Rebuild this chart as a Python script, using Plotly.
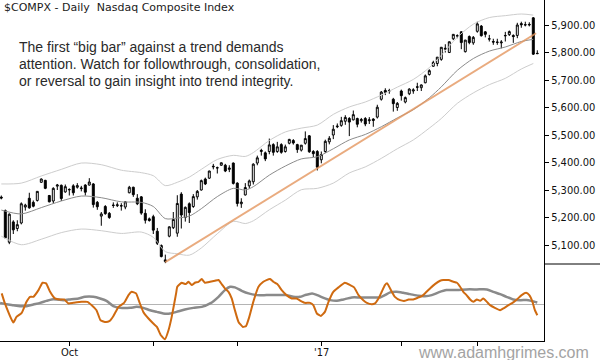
import plotly.graph_objects as go

# ---------------- data ----------------
opens = [5274,5225,5110,5184,5160,5180,5238,5270,5255,5262,5328,5335,5280,5260,5314,5317,5293,5302,5315,5310,
         5305,5318,5318,5322,5255,5205,5240,5215,5245,5243,5243,5238,5290,5310,5270,5275,5215,5195,5203,5150,
         5098,5040,5132,5163,5143,5285,5200,5250,5240,5275,5300,5340,5343,5384,5380,5390,5390,5375,5398,5325,
         5250,5282,5315,5330,5398,5440,5435,5440,5465,5440,5465,5440,5470,5480,5465,5445,5470,5497,5440,5440,
         5410,5440,5475,5500,5530,5535,5550,5560,5555,5560,5552,5560,5552,5558,5565,5630,5662,5660,5630,5600,
         5660,5620,5650,5660,5675,5672,5690,5720,5750,5760,5775,5812,5800,5850,5860,5875,5803,5858,5835,5877,
         5896,5875,5850,5840,5838,5835,5862,5865,5862,5862,5905,5900,5900,5926,5797]
highs = [5280,5229,5215,5190,5190,5255,5250,5290,5262,5296,5342,5337,5282,5310,5322,5320,5320,5306,5321,5325,
         5315,5321,5343,5325,5260,5220,5245,5220,5255,5255,5252,5260,5315,5312,5285,5278,5230,5200,5210,5162,
         5102,5065,5168,5220,5281,5292,5240,5255,5285,5300,5338,5345,5370,5395,5385,5400,5395,5390,5400,5328,
         5270,5325,5338,5397,5425,5450,5440,5487,5470,5475,5470,5465,5486,5485,5468,5462,5513,5500,5445,5445,
         5440,5483,5496,5536,5542,5566,5572,5565,5589,5563,5562,5565,5565,5561,5610,5660,5670,5668,5635,5620,
         5665,5640,5670,5670,5690,5684,5720,5739,5770,5783,5820,5830,5840,5867,5866,5877,5846,5862,5860,5912,
         5900,5878,5864,5850,5850,5845,5875,5880,5866,5908,5912,5912,5910,5929,5808]
lows = [5266,5125,5103,5140,5150,5175,5225,5232,5237,5258,5326,5303,5255,5250,5300,5260,5290,5280,5280,5305,
        5295,5280,5316,5236,5228,5170,5210,5195,5235,5238,5225,5230,5288,5275,5245,5210,5178,5185,5140,5100,
        5055,5034,5128,5158,5130,5160,5185,5180,5235,5265,5298,5318,5340,5375,5360,5388,5365,5365,5320,5240,
        5235,5280,5305,5320,5390,5425,5405,5430,5425,5435,5432,5436,5466,5465,5435,5440,5465,5435,5420,5371,
        5397,5435,5466,5485,5525,5530,5537,5496,5553,5528,5545,5532,5540,5530,5560,5625,5645,5650,5585,5588,
        5625,5615,5645,5650,5660,5660,5688,5716,5748,5750,5770,5800,5798,5845,5852,5812,5800,5830,5828,5872,
        5858,5855,5840,5828,5828,5815,5840,5860,5835,5852,5890,5895,5895,5791,5794]
closes = [5271,5126,5212,5155,5174,5250,5245,5235,5241,5295,5340,5306,5257,5306,5318,5269,5312,5301,5290,5316,
          5307,5292,5329,5247,5239,5213,5214,5200,5244,5246,5242,5257,5310,5283,5250,5216,5190,5189,5154,5106,
          5058,5046,5166,5193,5251,5209,5237,5218,5276,5295,5334,5322,5369,5386,5381,5399,5369,5380,5324,5251,
          5256,5309,5333,5394,5417,5444,5413,5464,5437,5457,5437,5457,5484,5471,5447,5463,5487,5439,5432,5383,
          5429,5477,5488,5521,5532,5552,5564,5547,5574,5539,5556,5540,5555,5553,5601,5656,5655,5661,5614,5615,
          5643,5636,5667,5664,5674,5682,5715,5734,5764,5783,5819,5815,5839,5866,5861,5836,5845,5836,5855,5904,
          5861,5866,5849,5838,5837,5838,5861,5876,5858,5900,5901,5901,5902,5794,5796]
days = list(range(len(closes)))

# channel lines (read at sample days)
band_days = [0,5,10,15,20,25,30,35,38,41,44,47,50,54,58,61,63,67,71,75,79,83,87,91,95,99,103,107,110,114,118,122,126,130,133]
band_mid = [5227,5213,5236,5260,5278,5272,5257,5255,5240,5196,5198,5205,5232,5276,5306,5300,5312,5354,5387,5413,
            5421,5450,5482,5502,5530,5562,5592,5635,5675,5735,5778,5805,5820,5840,5848]
band_up = [5322,5325,5351,5375,5398,5392,5372,5363,5352,5316,5328,5347,5375,5411,5426,5422,5436,5480,5511,5525,
           5536,5575,5602,5620,5645,5674,5702,5745,5790,5855,5903,5927,5934,5940,5936]
band_lo = [5132,5101,5121,5145,5158,5152,5142,5147,5128,5076,5068,5063,5089,5141,5186,5178,5188,5228,5263,5301,
           5306,5325,5362,5384,5415,5450,5482,5525,5560,5615,5653,5683,5706,5740,5760]

trend_days = [41, 133.7]
trend_vals = [5038, 5870]

# oscillator panel
osc_days = [0.1,0.9,3.0,3.8,5.1,6.3,7.2,8.0,9.3,10.3,11.2,12.2,13.4,14.7,15.7,16.8,18.0,20.1,21.5,22.6,
            23.8,24.8,25.9,27.0,28.0,29.3,30.7,31.8,32.6,33.7,34.5,35.5,36.8,38.0,38.9,39.9,40.9,41.8,42.6,43.7,
            44.0,45.1,46.1,46.8,47.6,48.4,49.3,50.1,50.9,52.2,53.4,54.3,55.1,55.9,56.8,57.6,58.4,59.3,60.4,61.2,
            62.0,63.0,64.3,65.5,66.3,67.2,68.0,69.0,70.1,71.3,72.6,73.8,74.7,75.9,77.2,78.0,78.9,79.9,80.9,81.8,
            83.0,84.3,85.9,87.2,88.2,89.3,90.5,91.4,92.6,93.4,94.3,95.1,95.9,96.5,97.4,98.4,99.7,100.9,101.8,103.0,
            104.3,105.1,105.9,107.2,108.4,109.7,110.5,111.8,113.0,113.9,114.7,115.5,116.3,117.2,118.0,118.9,119.7,120.5,121.4,122.2,
            123.4,124.7,125.5,126.8,127.6,128.9,130.1,131.2,132.0,132.8,133.4,134.0]
osc_vals = [10.7,0.7,-18.3,-12.7,-8.7,2.3,7.3,7.3,14,21.3,20.7,12.3,5.7,4.7,4.7,0.7,1.3,2.3,2.3,-1,
            -6,-16,-17.7,-17,-12,-2.7,1.3,9,12.3,10.7,2.3,-7.7,-14.3,-19.3,-22.7,-31,-35,-26,-12.7,10.7,
            17.3,21.3,20,22.3,19,21.3,22.3,25,21.3,22.3,23.3,24,20,15.7,12.3,5.7,-6,-17.7,-22.7,-21.7,
            -12.7,2.3,17.3,22.3,24,25,22.3,20,14,9,5.7,5.7,3.6,1.3,1.3,-1,-9.3,-11.7,-7.7,2.3,
            12.3,16.7,21.3,19,16.7,9,4,1.3,0,0.7,5.7,12.3,19,20.7,14,7.3,4,3.3,4.7,4.7,
            6.7,8,10.7,15.7,20,23.3,24,24,22.3,21.3,17.3,12.3,9,4.7,2.3,4.7,3.3,5.7,2.3,-1,
            -3.7,-6,-4.3,-1,0.7,4.7,9,11.3,9,2.3,-6,-11]
sig_days = [-0.3,1.3,3.0,4.7,6.3,8.0,9.7,11.3,12.6,13.8,15.5,17.2,19.3,20.9,23.0,24.7,26.3,28.0,29.7,32.2,
            33.8,35.5,37.2,38.9,40.5,42.2,43.8,45.9,48.0,50.1,52.2,54.3,55.9,57.2,58.4,60.1,61.8,63.9,66.3,68.8,
            71.3,73.0,74.7,75.9,77.7,79.0,80.9,82.2,83.9,85.5,87.6,89.7,92.2,94.7,95.9,97.2,98.8,100.5,102.2,104.3,
            105.9,107.6,109.3,111.3,113.9,116.3,118.9,121.4,123.0,124.7,126.3,128.0,129.7,131.8,133.4,134.0]
sig_vals = [1.3,0,-1,-2,-2,-0.3,1.3,3.3,4.7,4.7,4,4.7,5.7,7.3,7.3,5.7,3.3,-2,-3.7,-3.7,
            -2.7,-3.7,-6,-7.7,-9.3,-9.3,-7.7,-5.3,-3.7,-2.7,0.7,7.3,14,17.3,16.7,13.3,10.7,9,9,9,
            9,7.3,7.3,9,10.7,9,5.7,4,3.3,4.7,6.7,6.7,6.7,6.7,9,11.7,12.3,11.3,10,8.3,
            8,9,11.7,14,14,14.7,14.7,14.7,12.3,10,7.3,4.7,4,4,2.3,1.7]

price_ticks = [5100, 5200, 5300, 5400, 5500, 5600, 5700, 5800, 5900]
month_tick_days = [17, 38, 59, 80, 100, 119]
month_tick_text = ["Oct", "", "", "'17", "", ""]

title_text = "$COMPX - Daily  Nasdaq Composite Index"
note_lines = ["The first \u201cbig bar\u201d against a trend demands",
              "attention. Watch for followthrough, consolidation,",
              "or reversal to gain insight into trend integrity."]
watermark = "www.adamhgrimes.com"

# ---------------- figure ----------------
W, H = 600, 360
ML, MR, MT, MB = 0, 56, 0, 19
PW, PH = W - ML - MR, H - MT - MB
split = (PH - 264) / PH  # paper y of the panel separator


def px(x):
    return (x - ML) / PW


def py(y):
    return 1 - (y - MT) / PH


fig = go.Figure()

fig.add_trace(go.Scatter(x=band_days, y=band_up, mode="lines", line=dict(color="#cdcdcd", width=1, shape="spline", smoothing=0.8),
                         hoverinfo="skip", xaxis="x", yaxis="y"))
fig.add_trace(go.Scatter(x=band_days, y=band_lo, mode="lines", line=dict(color="#cdcdcd", width=1, shape="spline", smoothing=0.8),
                         hoverinfo="skip", xaxis="x", yaxis="y"))
fig.add_trace(go.Scatter(x=band_days, y=band_mid, mode="lines", line=dict(color="#8c8c8c", width=1, shape="spline", smoothing=0.8),
                         hoverinfo="skip", xaxis="x", yaxis="y"))
fig.add_trace(go.Scatter(x=trend_days, y=trend_vals, mode="lines", line=dict(color="rgba(228,150,95,0.8)", width=2),
                         hoverinfo="skip", xaxis="x", yaxis="y"))

fig.add_trace(go.Candlestick(
    x=days, open=opens, high=highs, low=lows, close=closes,
    increasing=dict(line=dict(color="black", width=1), fillcolor="white"),
    decreasing=dict(line=dict(color="black", width=1), fillcolor="black"),
    whiskerwidth=0, xaxis="x", yaxis="y", hoverinfo="skip"))

fig.add_trace(go.Scatter(x=sig_days, y=sig_vals, mode="lines", line=dict(color="#8a8a8a", width=2.5, shape="spline", smoothing=0.6),
                         hoverinfo="skip", xaxis="x2", yaxis="y2"))
fig.add_trace(go.Scatter(x=osc_days, y=osc_vals, mode="lines", line=dict(color="#cf6a10", width=2, shape="spline", smoothing=0.4),
                         hoverinfo="skip", xaxis="x2", yaxis="y2"))

axis_font = dict(family="DejaVu Sans Condensed, DejaVu Sans", size=11, color="#111111")
xr = [-0.325, 135.675]

fig.update_layout(
    width=W, height=H,
    margin=dict(l=ML, r=MR, t=MT, b=MB, pad=0),
    paper_bgcolor="white", plot_bgcolor="white",
    showlegend=False,
    xaxis=dict(domain=[0, 1], range=xr, anchor="y", showticklabels=False, showgrid=False, zeroline=False,
               showline=False, ticks="", rangeslider=dict(visible=False)),
    yaxis=dict(domain=[split, 1], range=[5030.9, 5990.9], side="right", anchor="x",
               tickvals=price_ticks, tickformat=",.2f", tickfont=axis_font,
               ticks="outside", ticklen=4, tickcolor="black", showline=True, linecolor="black", linewidth=1,
               showgrid=False, zeroline=False),
    xaxis2=dict(domain=[0, 1], range=xr, anchor="y2", matches="x", tickvals=month_tick_days,
                showticklabels=False, ticks="outside", ticklen=4, tickcolor="black",
                showline=True, linecolor="black", linewidth=1, showgrid=False, zeroline=False),
    yaxis2=dict(domain=[0, split], range=[-36.7, 40], side="right", anchor="x2", showticklabels=False, ticks="",
                showline=True, linecolor="black", linewidth=1, showgrid=False,
                zeroline=True, zerolinecolor="#b4b4b4", zerolinewidth=1),
)

fig.add_shape(type="line", xref="paper", yref="paper", x0=1, x1=px(W), y0=split, y1=split,
              line=dict(color="black", width=1))

# month labels under the bottom axis
for d, t in zip(month_tick_days, month_tick_text):
    if t:
        fig.add_annotation(text=t, xref="x2", yref="paper", x=d, y=py(352), xanchor="center", yanchor="middle",
                           showarrow=False, font=axis_font)

fig.add_annotation(text=title_text, xref="paper", yref="paper", x=px(2), y=py(8), xanchor="left", yanchor="middle",
                   showarrow=False, font=dict(family="DejaVu Sans", size=11, color="#1a1a1a"))
for k, line in enumerate(note_lines):
    fig.add_annotation(text=line, xref="paper", yref="paper", x=px(17), y=py(47 + 17 * k),
                       xanchor="left", yanchor="middle", showarrow=False,
                       font=dict(family="Liberation Sans", size=14, color="#2a2a2a"))
fig.add_annotation(text=watermark, xref="paper", yref="paper", x=px(591), y=py(352), xanchor="right", yanchor="middle",
                   showarrow=False, font=dict(family="Liberation Sans", size=16, color="#a3a3a3"))

fig.write_html("out.html", config={"displayModeBar": False, "staticPlot": True},
               post_script="document.body.style.margin='0';document.body.style.overflow='hidden';")
